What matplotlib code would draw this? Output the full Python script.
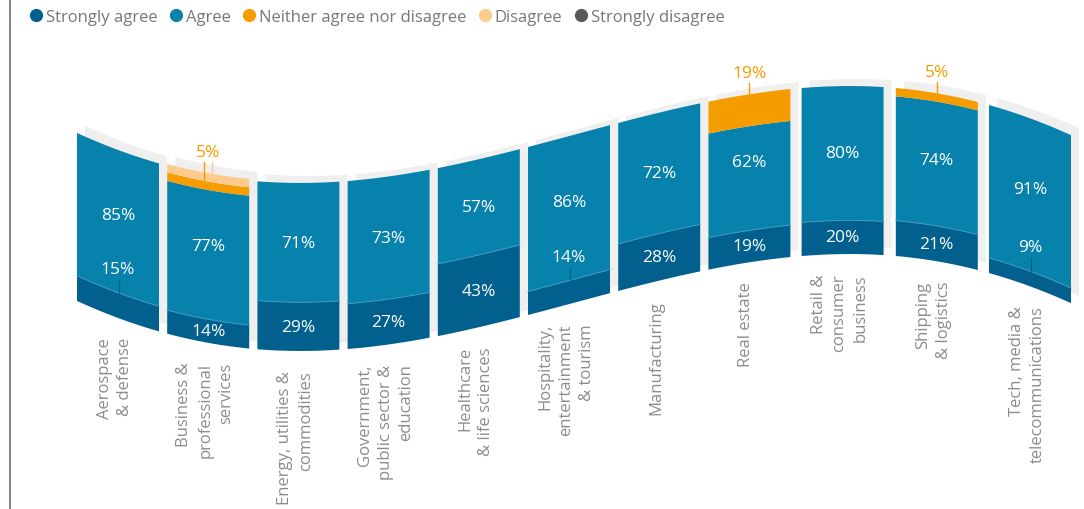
import numpy as np
import matplotlib.pyplot as plt
from matplotlib.patches import Polygon
from matplotlib.lines import Line2D

plt.rcParams['font.family'] = ['Open Sans', 'DejaVu Sans']

# survey answers per sector, in percent
sectors = ['Aerospace\n& defense', 'Business &\nprofessional\nservices',
           'Energy, utilities &\ncommodities', 'Government,\npublic sector &\neducation',
           'Healthcare\n& life sciences', 'Hospitality,\nentertainment\n& tourism',
           'Manufacturing', 'Real estate', 'Retail &\nconsumer\nbusiness',
           'Shipping\n& logistics', 'Tech, media &\ntelecommunications']
strongly_agree = [15, 14, 29, 27, 43, 14, 28, 19, 20, 21, 9]
agree = [85, 77, 71, 73, 57, 86, 72, 62, 80, 74, 91]
neither = [0, 5, 0, 0, 0, 0, 0, 19, 0, 5, 0]
disagree = [0, 5, 0, 0, 0, 0, 0, 0, 0, 0, 0]
strongly_disagree = [0, 0, 0, 0, 0, 0, 0, 0, 0, 0, 0]

answer_names = ['Strongly agree', 'Agree', 'Neither agree nor disagree',
                'Disagree', 'Strongly disagree']
colors = ['#01608e', '#0782ad', '#f49c00', '#fccb8d', '#5a5a5a']

stack = np.array([strongly_agree, agree, neither, disagree, strongly_disagree], dtype=float)
n = len(sectors)

fig = plt.figure(figsize=(10.84, 5.10), dpi=100)
ax = fig.add_axes([0, 0, 1, 1])
ax.set_xlim(0, 1084)
ax.set_ylim(510, 0)
ax.axis('off')

px_per_pct = 1.68
bar_w = 82
left = 77 + 90.2 * np.arange(n)
left[8:] += [3, 7, 10]


def wave(x):
    # wavy baseline the bars sit on
    t = (x - 575) / 275
    return 303.5 - (73.9 * t - 26.6 * t**3 + 1.16 * t**5)


def band(x0, lo, hi, dx=0.0, dy=0.0):
    xs = np.linspace(x0, x0 + bar_w, 40)
    base = wave(xs)
    y_lo = base - lo * px_per_pct
    y_hi = base - hi * px_per_pct
    return np.column_stack([np.r_[xs, xs[::-1]] + dx, np.r_[y_lo, y_hi[::-1]] + dy])


# light shadow slabs behind the bars
for i in range(n):
    ax.add_patch(Polygon(band(left[i], 0, stack[:, i].sum(), 8, -7),
                         closed=True, fc='#efefef', ec='none', zorder=1))

for i in range(n):
    cum = 0.0
    for k in range(stack.shape[0]):
        v = stack[k, i]
        if v <= 0:
            continue
        ax.add_patch(Polygon(band(left[i], cum, cum + v), closed=True,
                             fc=colors[k], ec='none', zorder=2))
        cum += v
    # thin light seam between strongly agree and agree
    xs = np.linspace(left[i], left[i] + bar_w, 40)
    ax.plot(xs, wave(xs) - strongly_agree[i] * px_per_pct, color='#3f98c0',
            lw=0.7, zorder=3)

pct_size = 12.5
for i in range(n):
    cx = left[i] + bar_w / 2
    base = wave(cx)
    total = stack[:, i].sum()
    top = base - total * px_per_pct
    b_sa = base - strongly_agree[i] * px_per_pct
    slope = abs(wave(left[i] + bar_w) - wave(left[i])) / bar_w
    lifted = strongly_agree[i] * px_per_pct < 30 and slope > 0.2

    if lifted:
        ax.text(cx, b_sa - 24, f'{strongly_agree[i]}%', color='white', fontsize=pct_size,
                ha='center', va='center', zorder=4)
        ax.plot([cx + 1, cx + 1], [b_sa - 13, b_sa + 6], color=colors[0], lw=1, zorder=4)
        y_agree = (top + b_sa - 12) / 2
    else:
        ax.text(cx, (base + b_sa) / 2, f'{strongly_agree[i]}%', color='white',
                fontsize=pct_size, ha='center', va='center', zorder=4)
        y_agree = (top + b_sa) / 2
    ax.text(cx, y_agree, f'{agree[i]}%', color='white', fontsize=pct_size,
            ha='center', va='center', zorder=4)

    if neither[i] > 0:
        ax.text(cx, top - 21, f'{neither[i]}%', color=colors[2], fontsize=pct_size,
                ha='center', va='center', zorder=4)
        y_n = top + disagree[i] * px_per_pct + neither[i] * px_per_pct * 0.6
        if disagree[i] > 0:
            ax.plot([cx - 4, cx - 4], [top - 11, y_n], color=colors[2], lw=1, zorder=4)
            ax.plot([cx + 4, cx + 4], [top - 11, top + disagree[i] * px_per_pct * 0.6],
                    color=colors[3], lw=1, zorder=4)
        else:
            ax.plot([cx, cx], [top - 11, y_n], color=colors[2], lw=1, zorder=4)

    # sector name, rotated, hanging below the bar
    ax.text(cx - 3, base + 19, sectors[i], rotation=90, ha='center', va='top',
            multialignment='right', fontsize=12, color='#8c8c8c', linespacing=1.4)

ax.plot([10, 10], [0, 510], color='#7a7a7a', lw=1.3)

handles = [Line2D([], [], marker='o', ls='none', color=c, markersize=8.5) for c in colors]
fig.legend(handles, answer_names, loc='upper left', bbox_to_anchor=(31 / 1084, 1 - 10 / 510),
           ncol=5, frameon=False, handlelength=0.6, handletextpad=0.3, columnspacing=0.8,
           fontsize=12, labelcolor='#777777', borderaxespad=0, borderpad=0)

fig.savefig('out.png', dpi=100)
